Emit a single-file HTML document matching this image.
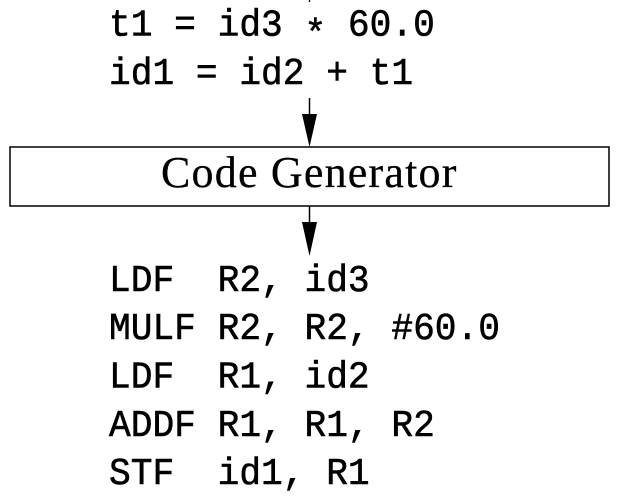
<!DOCTYPE html>
<html>
<head>
<meta charset="utf-8">
<style>
html,body{margin:0;padding:0;background:#fff;width:625px;height:496px;overflow:hidden}
svg{display:block}
.code{font-family:"Liberation Mono",monospace;font-size:36.2px;fill:#000;font-weight:400;stroke:#000;stroke-width:.55px;white-space:pre}
.box-label{font-family:"Liberation Serif",serif;font-size:44px;letter-spacing:1.2px;fill:#000;stroke:#000;stroke-width:.25px}
</style>
</head>
<body>
<svg width="625" height="496" viewBox="0 0 625 496">
<line x1="309.5" y1="0" x2="309.5" y2="2" stroke="#000" stroke-width="1.3"/>
<text class="code" transform="translate(109,35.5) scale(1,1.06)">t1 = id3 <tspan dy="9">*</tspan><tspan dy="-9"> 60.0</tspan></text>
<text class="code" transform="translate(109,84) scale(1,1.06)">id1 = id2 + t1</text>
<g>
<line x1="309.5" y1="98" x2="309.5" y2="125" stroke="#000" stroke-width="1.5"/>
<polygon points="302,114 317,114 309.5,147" fill="#000"/>
</g>
<rect x="10" y="147" width="599" height="59" fill="#fff" stroke="#000" stroke-width="1.5"/>
<text class="box-label" x="161" y="187">Code Generator</text>
<g>
<line x1="309.5" y1="206" x2="309.5" y2="235" stroke="#000" stroke-width="1.5"/>
<polygon points="302,222 317,222 309.5,256" fill="#000"/>
</g>
<text class="code" transform="translate(109,291) scale(1,1.06)">LDF  R2, id3</text>
<text class="code" transform="translate(109,339) scale(1,1.06)">MULF R2, R2, #60.0</text>
<text class="code" transform="translate(109,387.5) scale(1,1.06)">LDF  R1, id2</text>
<text class="code" transform="translate(109,436) scale(1,1.06)">ADDF R1, R1, R2</text>
<text class="code" transform="translate(109,484) scale(1,1.06)">STF  id1, R1</text>
</svg>
</body>
</html>
